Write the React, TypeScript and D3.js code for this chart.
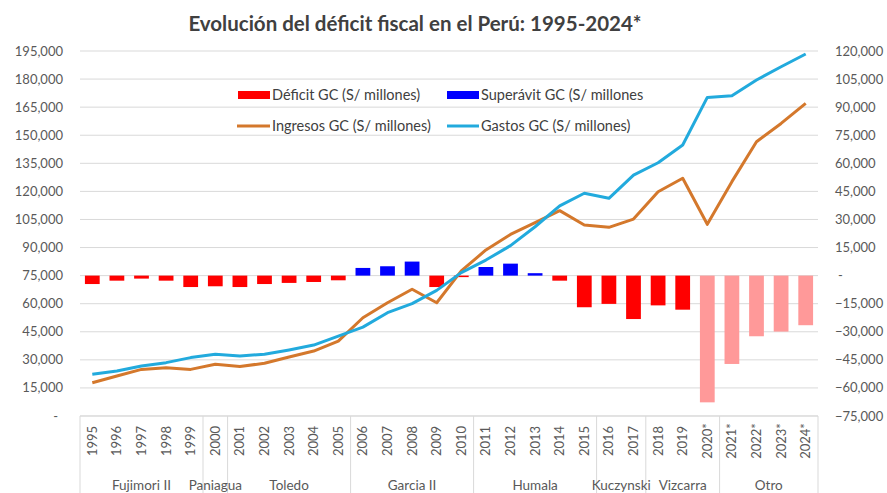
import React from 'react';
import * as d3 from 'd3';

const years = ['1995','1996','1997','1998','1999','2000','2001','2002','2003','2004','2005','2006','2007','2008','2009','2010','2011','2012','2013','2014','2015','2016','2017','2018','2019','2020*','2021*','2022*','2023*','2024*'];
const ingresos = [17800, 21400, 24900, 25800, 24900, 27600, 26400, 28200, 31500, 34700, 40000, 52500, 60500, 67700, 60500, 77500, 88700, 97000, 103300, 109700, 102000, 100800, 105200, 119800, 127000, 102400, 125200, 146500, 156300, 167000];
const gastos = [22300, 24000, 26700, 28500, 31200, 33000, 32100, 33000, 35300, 37900, 42700, 47500, 55200, 60000, 67100, 76600, 83300, 91000, 101100, 112300, 119000, 116300, 128700, 135300, 144800, 170200, 171100, 179500, 186600, 193400];
const resultado = [-4500, -2700, -1600, -2700, -6100, -5700, -6100, -4500, -3900, -3400, -2500, 4100, 5000, 7500, -6100, -200, 4600, 6400, 1300, -2700, -16900, -15100, -23200, -15900, -18200, -67700, -47200, -32400, -29900, -26500];
const projectedFrom = '2020*';
const groupNames = ['Fujimori II', 'Paniagua', 'Toledo', 'Garcia II', 'Humala', 'Kuczynski', 'Vizcarra', 'Otro'];
const groupSizes = [5, 1, 5, 5, 5, 2, 3, 4];
const leftTicks = d3.range(0, 195001, 15000);
const rightTicks = d3.range(-75000, 120001, 15000);
const title = 'Evolución del déficit fiscal en el Perú: 1995-2024*';
const legendLabels = ['Déficit GC (S/ millones)', 'Superávit GC (S/ millones', 'Ingresos GC (S/ millones)', 'Gastos GC (S/ millones)'];

const W = 887, H = 493;
const X0 = 80, X1 = 818, YT = 51, YB = 416;
const FONT = 'Lato, "Open Sans", sans-serif';
const TXT = '#595959';
const C_DEF = '#FF0000', C_SUP = '#0000FF', C_PROJ = '#FF9999', C_ING = '#D4782C', C_GAS = '#22AADD';

export default function App() {
  const x = d3.scaleBand<string>().domain(years).range([X0, X1]).paddingInner(0.4).paddingOuter(0.2);
  const step = x.step();
  const cx = (y: string) => (x(y) as number) + x.bandwidth() / 2;
  const yL = d3.scaleLinear().domain([0, 195000]).range([YB, YT]);
  const yR = d3.scaleLinear().domain([-75000, 120000]).range([YB, YT]);
  const fmt = d3.format(',');
  const line = d3.line<number>().x((_, i) => cx(years[i])).y(v => yL(v));
  const projIdx = years.indexOf(projectedFrom);

  let acc = 0;
  const groups = groupNames.map((n, i) => {
    const start = acc;
    acc += groupSizes[i];
    return { name: n, start, end: acc };
  });

  return (
    <svg width={W} height={H} style={{ position: 'absolute', left: 0, top: 0, background: '#fff' }} fontFamily={FONT}>
      <rect x={0} y={0} width={W} height={H} fill="#fff" />
      <text x={415} y={31} textAnchor="middle" fontSize={20.5} fontWeight="bold" fill="#404040">{title}</text>
      {leftTicks.map(t => (
        <line key={'g' + t} x1={X0} x2={X1} y1={yL(t)} y2={yL(t)} stroke="#D9D9D9" strokeWidth={1} />
      ))}
      {resultado.map((v, i) => {
        const color = i >= projIdx ? C_PROJ : v >= 0 ? C_SUP : C_DEF;
        const y0 = yR(0), y1 = yR(v);
        return <rect key={'b' + i} x={x(years[i])} width={x.bandwidth()} y={Math.min(y0, y1)} height={Math.max(1.5, Math.abs(y1 - y0))} fill={color} />;
      })}
      <path d={line(ingresos) || ''} fill="none" stroke={C_ING} strokeWidth={3} strokeLinejoin="round" />
      <path d={line(gastos) || ''} fill="none" stroke={C_GAS} strokeWidth={3} strokeLinejoin="round" />
      {leftTicks.map(t => (
        <text key={'l' + t} x={t === 0 ? 58 : 63} y={yL(t)} dy="0.35em" textAnchor="end" fontSize={13} fill={TXT}>{t === 0 ? '-' : fmt(t)}</text>
      ))}
      {rightTicks.map(t => (
        <text key={'r' + t} x={t === 0 ? 838 : 835} y={yR(t)} dy="0.35em" textAnchor="start" fontSize={13} fill={TXT}>{t === 0 ? '-' : fmt(t)}</text>
      ))}
      <line x1={X0} x2={X1} y1={YB} y2={YB} stroke="#D9D9D9" />
      {[0, ...groups.map(g => g.end)].map((b, i) => (
        <line key={'v' + i} x1={X0 + b * step} x2={X0 + b * step} y1={YB} y2={H} stroke="#D9D9D9" />
      ))}
      {years.map(yr => (
        <text key={'y' + yr} transform={`translate(${cx(yr)},441) rotate(-90)`} textAnchor="middle" dy="0.35em" fontSize={13} fill={TXT}>{yr}</text>
      ))}
      {groups.map(g => (
        <text key={'n' + g.name} x={X0 + ((g.start + g.end) / 2) * step} y={490} textAnchor="middle" fontSize={13.5} fill={TXT}>{g.name}</text>
      ))}
      <g fontSize={14.5} fill="#404040">
        <rect x={238} y={91} width={32} height={8} fill={C_DEF} />
        <text x={272} y={95} dy="0.35em">{legendLabels[0]}</text>
        <rect x={447} y={91} width={32} height={8} fill={C_SUP} />
        <text x={481} y={95} dy="0.35em">{legendLabels[1]}</text>
        <line x1={237} x2={270} y1={126} y2={126} stroke={C_ING} strokeWidth={3} />
        <text x={272} y={126} dy="0.35em">{legendLabels[2]}</text>
        <line x1={447} x2={479} y1={126} y2={126} stroke={C_GAS} strokeWidth={3} />
        <text x={481} y={126} dy="0.35em">{legendLabels[3]}</text>
      </g>
    </svg>
  );
}
